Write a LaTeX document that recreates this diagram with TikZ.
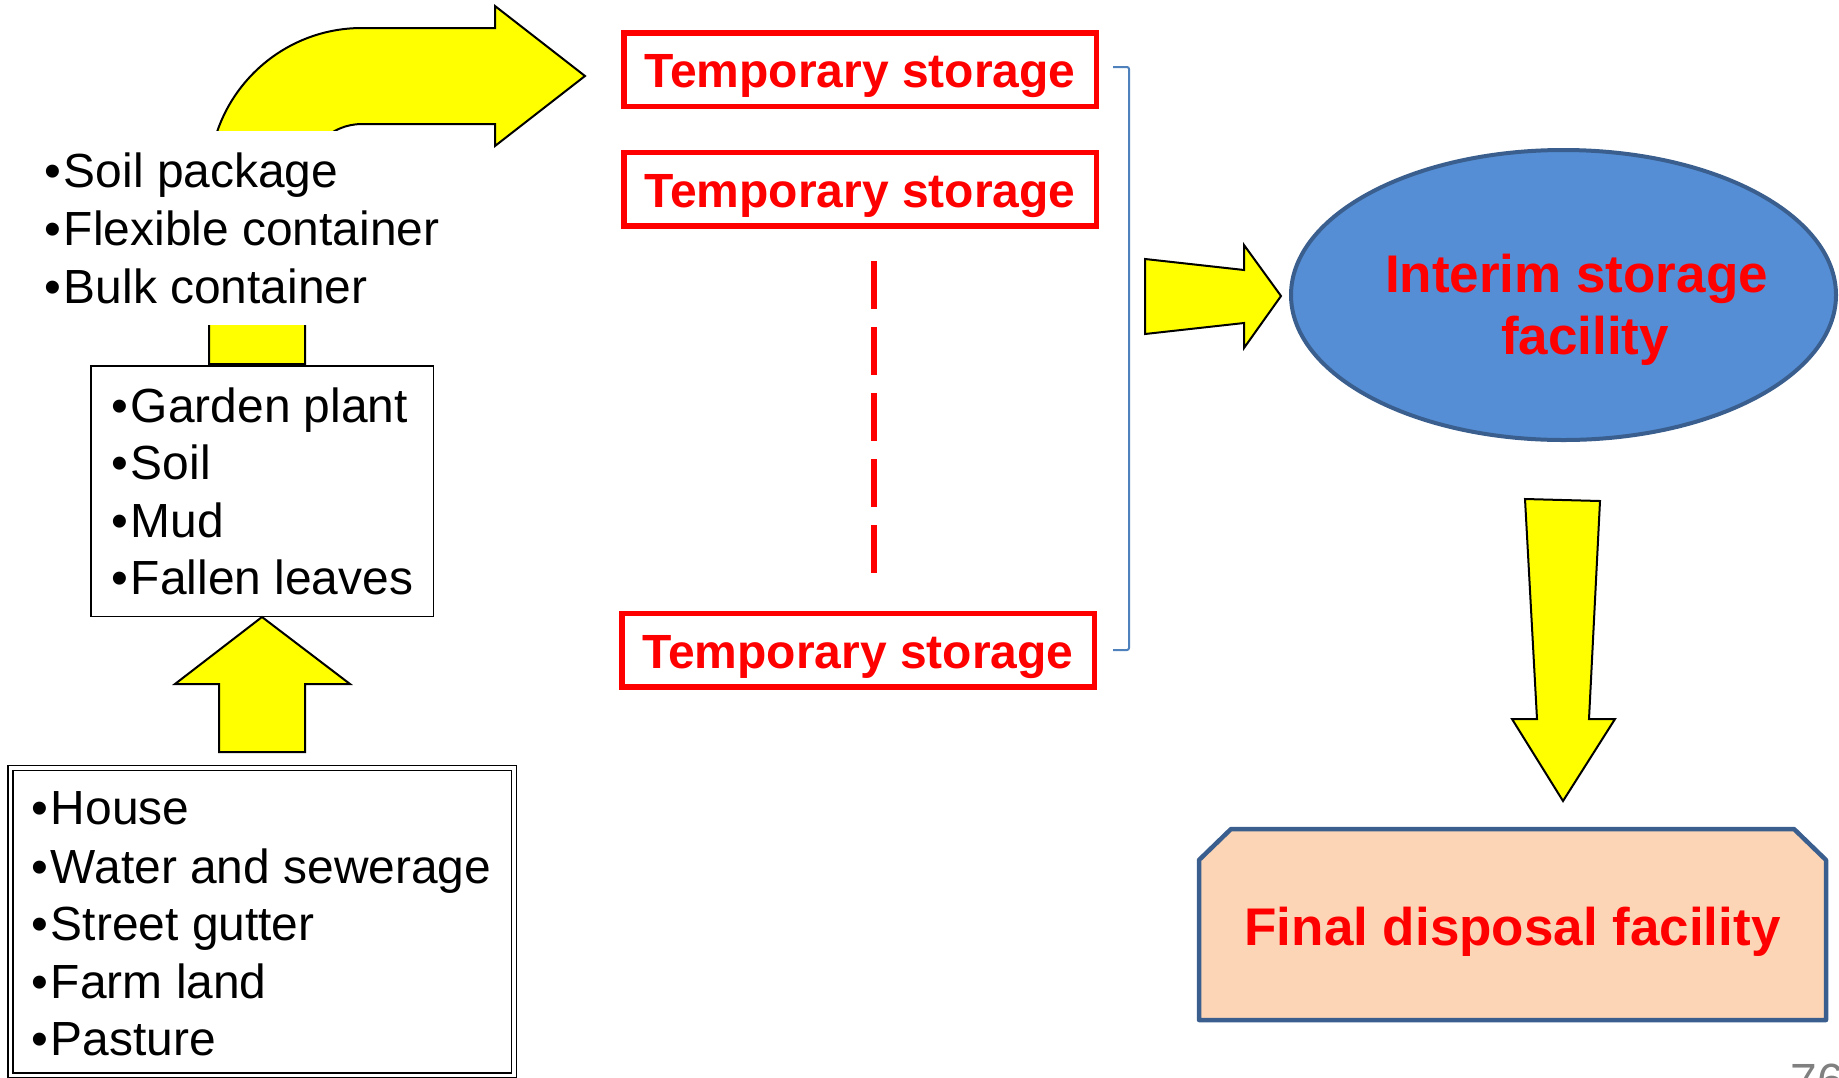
\documentclass[tikz,border=0pt]{standalone}
\usepackage{fontspec}
\setmainfont{Liberation Sans}
\usetikzlibrary{shapes.geometric}
\definecolor{arrowyellow}{HTML}{FFFF00}
\definecolor{boxred}{HTML}{FF0000}
\definecolor{ellfill}{HTML}{558ED5}
\definecolor{ellline}{HTML}{3A5F8E}
\definecolor{peach}{HTML}{FBD5B5}
\definecolor{bracketblue}{HTML}{4F81BD}
\definecolor{pagegray}{HTML}{808080}
\newcommand{\blt}{•\kern3pt}

\begin{document}
\begin{tikzpicture}[x=1pt,y=-1pt,
  blockarrow/.style={fill=arrowyellow,draw=black,line width=2pt,line join=miter},
  listtext/.style={anchor=base west,inner sep=0pt,font=\fontsize{47.9}{56}\selectfont},
  tempbox/.style={draw=boxred,line width=5.5pt,text=boxred,inner sep=0pt,
    minimum width=472.5pt,minimum height=73.5pt,text height=36pt,text depth=0pt,
    font=\fontsize{48}{56}\selectfont\bfseries},
  headline/.style={anchor=base,inner sep=0pt,text=boxred,
    font=\fontsize{53}{62}\selectfont\bfseries},
]
\useasboundingbox (0,0) rectangle (1839,1077);

% curved arrow from the packed waste towards temporary storage
\draw[blockarrow] (209,364) -- (209,181)
  .. controls (209,96.5) and (277.5,28) .. (362,28)
  -- (495,28) -- (495,6) -- (585,76) -- (495,146) -- (495,124) -- (362,124)
  .. controls (330.5,124) and (305,149.5) .. (305,181)
  -- (305,364) -- cycle;

% packaging list on a white panel
\node[fill=white,inner sep=0pt,minimum width=420pt,minimum height=194pt] (pack) at (240,228) {};
\node[listtext] (p1) at (44,187) {\blt Soil package};
\node[listtext] (p2) at (44,245) {\blt Flexible container};
\node[listtext] (p3) at (44,303) {\blt Bulk container};

% removed materials
\node[draw=black,line width=1.5pt,minimum width=342.5pt,minimum height=250.5pt,inner sep=0pt] (garden) at (262,491) {};
\node[listtext] (g1) at (111,422) {\blt Garden plant};
\node[listtext] (g2) at (111,479) {\blt Soil};
\node[listtext] (g3) at (111,537) {\blt Mud};
\node[listtext] (g4) at (111,594) {\blt Fallen leaves};

% up arrow from the sources
\draw[blockarrow] (219,752) -- (219,684) -- (175,684) -- (garden.south) -- (350,684) -- (305,684) -- (305,752) -- cycle;

% sources of contamination
\node[draw=black,double=white,double distance=3.5pt,line width=1.5pt,
  minimum width=503.5pt,minimum height=307.5pt,inner sep=0pt] (src) at (262.25,921.75) {};
\node[listtext] (s1) at (31,824) {\blt House};
\node[listtext] (s2) at (31,883) {\blt Water and sewerage};
\node[listtext] (s3) at (31,940) {\blt Street gutter};
\node[listtext] (s4) at (31,998) {\blt Farm land};
\node[listtext] (s5) at (31,1055) {\blt Pasture};

% temporary storage sites
\node[tempbox] (ts1) at (860,69.5) {Temporary storage};
\node[tempbox] (ts2) at (860,189) {Temporary storage};
\node[tempbox] (ts3) at (858,650) {Temporary storage};
\coordinate (dtop) at (874,261);
\coordinate (dbot) at (874,573);
\draw[boxred,line width=6.4pt,dash pattern=on 48pt off 18pt] (dtop) -- (dbot);

% bracket grouping the temporary storage sites
\draw[bracketblue,line width=2pt,rounded corners=2pt] (1113,67) -- (1129,67) -- (1129,650) -- (1113,650);

% interim storage facility
\node[ellipse,draw=ellline,fill=ellfill,line width=4pt,minimum width=545pt,
  minimum height=290pt,inner sep=0pt] (interim) at (1563.5,295) {};
\node[headline] (int1) at (1576.5,292) {Interim storage};
\node[headline] (int2) at (1585,354) {facility};

% arrow into the interim storage facility
\draw[blockarrow] (1145,259) -- (1244,270) -- (1244,245) -- (1281,296) -- (1244,348) -- (1244,323) -- (1145,334) -- cycle;

% arrow down to final disposal
\draw[blockarrow] (1525,499) -- (1600,501) -- (1589,719) -- (1615,719) -- (1563,801) -- (1512,719) -- (1537,719) -- cycle;

% final disposal facility
\draw[fill=peach,draw=ellline,line width=4.5pt,line join=round]
  (1199,860) -- (1231,829) -- (1794,829) -- (1826,860) -- (1826,1020) -- (1199,1020) -- cycle;
\node[headline] (final) at (1512.5,945) {Final disposal facility};

% page number
\node[anchor=base west,inner sep=0pt,text=pagegray,font=\fontsize{48}{56}\selectfont] (pg) at (1790.5,1097) {76};
\end{tikzpicture}
\end{document}
